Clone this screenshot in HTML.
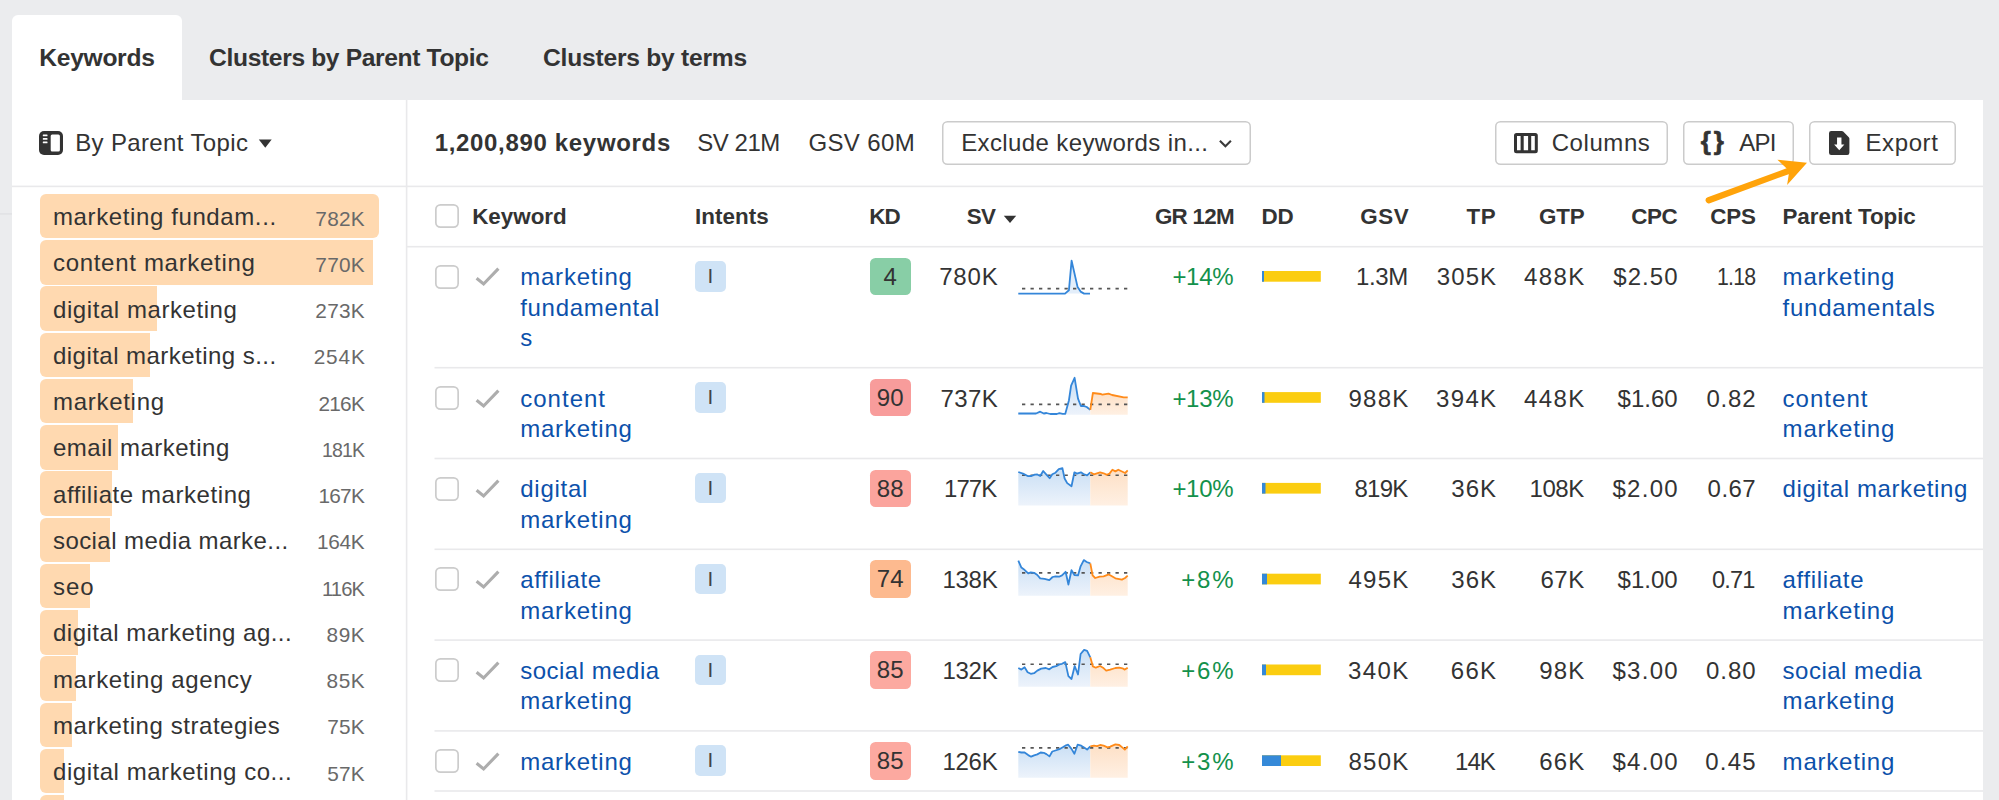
<!DOCTYPE html>
<html lang="en">
<head>
<meta charset="utf-8">
<title>Keywords Explorer</title>
<style>
*{box-sizing:border-box;margin:0;padding:0}
html,body{width:1999px;height:800px;overflow:hidden;background:#ebecee}
body{font-family:"Liberation Sans",sans-serif;color:#333;position:relative;font-size:24px}
.abs{position:absolute;white-space:nowrap}
#tab{left:12px;top:15px;width:170px;height:86px;background:#fff;border-radius:6px 6px 0 0}
#panel{left:12px;top:100px;width:1971px;height:700px;background:#fff}
.btn{box-shadow:inset 0 0 0 1.5px #cbcbcb;border-radius:5.5px;background:#fff;height:43.5px;top:121px}
/* sidebar */
.sb{left:39.5px;height:44.5px;background:#ffd9b0}
/* table */
.cb{width:24px;height:24px;box-shadow:inset 0 0 0 1.7px #cccccc;border-radius:5.5px;background:#fff;left:434.75px}
.kd{left:869.7px;width:41px;height:37.7px;border-radius:5.5px;text-align:center;line-height:38.5px;font-size:24px;color:#333}
.in{left:695px;width:30.7px;height:30.5px;border-radius:5px;background:#cfe3f6;text-align:center;line-height:30px;font-size:20.5px;color:#444}
</style>
</head>
<body>
<div class="abs" id="tab"></div>
<div class="abs" id="panel"></div>
<div class="abs" style="left:39.3px;top:42.8px;font-size:24.6px;line-height:30px;letter-spacing:-0.29px;font-weight:bold;">Keywords</div>
<div class="abs" style="left:209.1px;top:42.8px;font-size:24.6px;line-height:30px;letter-spacing:-0.35px;font-weight:bold;">Clusters by Parent Topic</div>
<div class="abs" style="left:543.1px;top:42.8px;font-size:24.6px;line-height:30px;letter-spacing:-0.23px;font-weight:bold;">Clusters by terms</div>
<svg class="abs" style="left:0;top:0" width="1999" height="800" viewBox="0 0 1999 800"><rect x="405.8" y="100" width="1.6" height="700" fill="#e9e9eb"/><rect x="12" y="185.6" width="1971" height="1.6" fill="#e9e9eb"/><rect x="0" y="213.3" width="12" height="1.3" fill="#dfe0e3"/><rect x="407" y="245.9" width="1576" height="1.6" fill="#e9e9eb"/><rect x="434.5" y="366.9" width="1548.5" height="1.6" fill="#e9e9eb"/><rect x="434.5" y="457.7" width="1548.5" height="1.6" fill="#e9e9eb"/><rect x="434.5" y="548.5" width="1548.5" height="1.6" fill="#e9e9eb"/><rect x="434.5" y="639.3" width="1548.5" height="1.6" fill="#e9e9eb"/><rect x="434.5" y="730.1" width="1548.5" height="1.6" fill="#e9e9eb"/><rect x="434.5" y="790.2" width="1548.5" height="1.6" fill="#e9e9eb"/><rect x="1262" y="271.0" width="58.8" height="10.7" fill="#fbcd10"/><rect x="1262" y="271.0" width="2" height="10.7" fill="#3589d8"/><rect x="1262" y="392.1" width="58.8" height="10.7" fill="#fbcd10"/><rect x="1262" y="392.1" width="2.5" height="10.7" fill="#3589d8"/><rect x="1262" y="482.9" width="58.8" height="10.7" fill="#fbcd10"/><rect x="1262" y="482.9" width="3.5" height="10.7" fill="#3589d8"/><rect x="1262" y="573.7" width="58.8" height="10.7" fill="#fbcd10"/><rect x="1262" y="573.7" width="5" height="10.7" fill="#3589d8"/><rect x="1262" y="664.5" width="58.8" height="10.7" fill="#fbcd10"/><rect x="1262" y="664.5" width="4" height="10.7" fill="#3589d8"/><rect x="1262" y="755.3" width="58.8" height="10.7" fill="#fbcd10"/><rect x="1262" y="755.3" width="19" height="10.7" fill="#3589d8"/></svg>
<svg class="abs" style="left:39.3px;top:130.8px" width="24" height="24" viewBox="0 0 24 24"><rect x="0" y="0" width="24" height="23.9" rx="5" fill="#333"/><rect x="11.7" y="3.4" width="9.2" height="17" rx="1.5" fill="#fff"/><rect x="3.8" y="3.6" width="4.7" height="1.7" rx=".5" fill="#fff"/><rect x="3.8" y="7" width="4.7" height="1.7" rx=".5" fill="#fff"/><rect x="3.8" y="10.5" width="4.7" height="1.7" rx=".5" fill="#fff"/></svg>
<div class="abs" style="left:75.2px;top:128.0px;font-size:24px;line-height:30px;letter-spacing:0.36px;">By Parent Topic</div>
<svg class="abs" style="left:255px;top:136px" width="20" height="14" viewBox="255 136 20 14"><path d="M258.8 139.6h12.9L265.25 147.8z" fill="#333"/></svg>
<div class="abs sb" style="top:193.8px;width:339px;border-radius:6px"></div>
<div class="abs" style="left:53.0px;top:202.2px;font-size:24px;line-height:30px;letter-spacing:0.61px;">marketing fundam...</div>
<div class="abs" style="left:315.3px;top:203.6px;font-size:20.8px;line-height:30px;letter-spacing:0.29px;color:#696969;">782K</div>
<div class="abs sb" style="top:240.0px;width:333px;border-radius:6px 0 0 6px"></div>
<div class="abs" style="left:53.0px;top:248.4px;font-size:24px;line-height:30px;letter-spacing:0.69px;">content marketing</div>
<div class="abs" style="left:315.3px;top:249.8px;font-size:20.8px;line-height:30px;letter-spacing:0.29px;color:#696969;">770K</div>
<div class="abs sb" style="top:286.2px;width:117px;border-radius:6px 0 0 6px"></div>
<div class="abs" style="left:53.0px;top:294.6px;font-size:24px;line-height:30px;letter-spacing:0.57px;">digital marketing</div>
<div class="abs" style="left:315.3px;top:296.1px;font-size:20.8px;line-height:30px;letter-spacing:0.29px;color:#696969;">273K</div>
<div class="abs sb" style="top:332.5px;width:110px;border-radius:6px 0 0 6px"></div>
<div class="abs" style="left:53.0px;top:340.9px;font-size:24px;line-height:30px;letter-spacing:0.46px;">digital marketing s...</div>
<div class="abs" style="left:313.7px;top:342.3px;font-size:20.8px;line-height:30px;letter-spacing:0.83px;color:#696969;">254K</div>
<div class="abs sb" style="top:378.8px;width:93px;border-radius:6px 0 0 6px"></div>
<div class="abs" style="left:53.0px;top:387.1px;font-size:24px;line-height:30px;letter-spacing:0.71px;">marketing</div>
<div class="abs" style="left:318.5px;top:388.6px;font-size:20.8px;line-height:30px;letter-spacing:-0.77px;color:#696969;">216K</div>
<div class="abs sb" style="top:425.0px;width:78px;border-radius:6px 0 0 6px"></div>
<div class="abs" style="left:53.0px;top:433.4px;font-size:24px;line-height:30px;letter-spacing:0.49px;">email marketing</div>
<div class="abs" style="left:321.7px;top:434.8px;font-size:20.8px;line-height:30px;letter-spacing:-0.90px;transform:scaleX(0.938);transform-origin:0 0;color:#696969;">181K</div>
<div class="abs sb" style="top:471.2px;width:72px;border-radius:6px 0 0 6px"></div>
<div class="abs" style="left:53.0px;top:479.6px;font-size:24px;line-height:30px;letter-spacing:0.57px;">affiliate marketing</div>
<div class="abs" style="left:318.5px;top:481.1px;font-size:20.8px;line-height:30px;letter-spacing:-0.77px;color:#696969;">167K</div>
<div class="abs sb" style="top:517.5px;width:70px;border-radius:6px 0 0 6px"></div>
<div class="abs" style="left:53.0px;top:525.9px;font-size:24px;line-height:30px;letter-spacing:0.42px;">social media marke...</div>
<div class="abs" style="left:316.9px;top:527.3px;font-size:20.8px;line-height:30px;letter-spacing:-0.24px;color:#696969;">164K</div>
<div class="abs sb" style="top:563.8px;width:50px;border-radius:6px 0 0 6px"></div>
<div class="abs" style="left:53.0px;top:572.1px;font-size:24px;line-height:30px;letter-spacing:0.99px;">seo</div>
<div class="abs" style="left:321.7px;top:573.5px;font-size:20.8px;line-height:30px;letter-spacing:-0.90px;transform:scaleX(0.971);transform-origin:0 0;color:#696969;">116K</div>
<div class="abs sb" style="top:610.0px;width:38px;border-radius:6px 0 0 6px"></div>
<div class="abs" style="left:53.0px;top:618.4px;font-size:24px;line-height:30px;letter-spacing:0.48px;">digital marketing ag...</div>
<div class="abs" style="left:326.5px;top:619.8px;font-size:20.8px;line-height:30px;letter-spacing:0.62px;color:#696969;">89K</div>
<div class="abs sb" style="top:656.2px;width:36px;border-radius:6px 0 0 6px"></div>
<div class="abs" style="left:53.0px;top:664.6px;font-size:24px;line-height:30px;letter-spacing:0.62px;">marketing agency</div>
<div class="abs" style="left:326.5px;top:666.0px;font-size:20.8px;line-height:30px;letter-spacing:0.62px;color:#696969;">85K</div>
<div class="abs sb" style="top:702.5px;width:32px;border-radius:6px 0 0 6px"></div>
<div class="abs" style="left:53.0px;top:710.9px;font-size:24px;line-height:30px;letter-spacing:0.56px;">marketing strategies</div>
<div class="abs" style="left:327.3px;top:712.3px;font-size:20.8px;line-height:30px;letter-spacing:0.22px;color:#696969;">75K</div>
<div class="abs sb" style="top:748.8px;width:24px;border-radius:6px 0 0 6px"></div>
<div class="abs" style="left:53.0px;top:757.1px;font-size:24px;line-height:30px;letter-spacing:0.54px;">digital marketing co...</div>
<div class="abs" style="left:327.3px;top:758.5px;font-size:20.8px;line-height:30px;letter-spacing:0.22px;color:#696969;">57K</div>
<div class="abs sb" style="top:795.0px;width:24px;border-radius:6px 0 0 6px"></div>
<div class="abs" style="left:434.7px;top:128.0px;font-size:24px;line-height:30px;letter-spacing:0.67px;font-weight:bold;">1,200,890 keywords</div>
<div class="abs" style="left:697.2px;top:128.0px;font-size:24px;line-height:30px;letter-spacing:-0.44px;">SV 21M</div>
<div class="abs" style="left:808.4px;top:128.0px;font-size:24px;line-height:30px;letter-spacing:0.37px;">GSV 60M</div>
<div class="abs btn" style="left:942px;width:309px"></div>
<div class="abs" style="left:961.2px;top:128.0px;font-size:24px;line-height:30px;letter-spacing:0.38px;">Exclude keywords in...</div>
<svg class="abs" style="left:1215px;top:135px" width="20" height="16" viewBox="1215 135 20 16"><path d="M1219.9 140.7L1225.4 146.2L1230.9 140.7" fill="none" stroke="#3a3a3a" stroke-width="2.1"/></svg>
<div class="abs btn" style="left:1495.3px;width:172.6px"></div>
<svg class="abs" style="left:1514px;top:132.7px" width="24" height="21" viewBox="0 0 24 21"><rect x="1.5" y="1.5" width="20.8" height="17.3" rx="1" fill="none" stroke="#333" stroke-width="3"/><rect x="6.6" y="2" width="3.1" height="17" fill="#333"/><rect x="14.1" y="2" width="3.1" height="17" fill="#333"/></svg>
<div class="abs" style="left:1551.7px;top:128.0px;font-size:24px;line-height:30px;letter-spacing:0.58px;">Columns</div>
<div class="abs btn" style="left:1683px;width:111px"></div>
<div class="abs" style="left:1700.7px;top:126.3px;font-size:26px;line-height:30px;letter-spacing:3.00px;font-weight:bold;-webkit-text-stroke:0.7px #333;">{}</div>
<div class="abs" style="left:1739.2px;top:128.0px;font-size:24px;line-height:30px;letter-spacing:-0.75px;">API</div>
<div class="abs btn" style="left:1808.5px;width:147.5px"></div>
<svg class="abs" style="left:1828.75px;top:130.9px" width="21" height="24" viewBox="0 0 21 24"><path d="M2.2 0h10.6a2 2 0 0 1 1.4.6l5.6 5.6a2 2 0 0 1 .6 1.4v14.1a2.2 2.2 0 0 1-2.2 2.2h-16a2.2 2.2 0 0 1-2.2-2.2v-19.5a2.2 2.2 0 0 1 2.2-2.2z" fill="#333"/><path d="M8.05 6.6h4.4v6.8h2.9l-5.1 5.8-5.1-5.8h2.9z" fill="#fff"/></svg>
<div class="abs" style="left:1865.5px;top:128.0px;font-size:24px;line-height:30px;letter-spacing:0.60px;">Export</div>
<svg class="abs" style="left:1690px;top:150px" width="140" height="60" viewBox="1690 150 140 60"><path d="M1708.75 200.25L1789 170.7" stroke="#ffa30a" stroke-width="6.3" stroke-linecap="round" fill="none"/><path d="M1777.4 159.75L1807 162.75L1787.1 184.9L1789.3 171z" fill="#ffa30a"/></svg>
<div class="abs cb" style="top:204px"></div>
<div class="abs" style="left:472.2px;top:202.2px;font-size:22.4px;line-height:30px;letter-spacing:0.00px;font-weight:bold;">Keyword</div>
<div class="abs" style="left:694.9px;top:202.2px;font-size:22.4px;line-height:30px;letter-spacing:0.08px;font-weight:bold;">Intents</div>
<div class="abs" style="left:869.2px;top:202.2px;font-size:22.4px;line-height:30px;letter-spacing:-0.78px;font-weight:bold;">KD</div>
<div class="abs" style="left:966.8px;top:202.2px;font-size:22.4px;line-height:30px;letter-spacing:-0.71px;font-weight:bold;">SV</div>
<svg class="abs" style="left:1003px;top:214.5px" width="14" height="9" viewBox="0 0 14 9"><path d="M0.8 0.8h12.4L7 8z" fill="#333"/></svg>
<div class="abs" style="left:1154.9px;top:202.2px;font-size:22.4px;line-height:30px;letter-spacing:-0.70px;font-weight:bold;">GR 12M</div>
<div class="abs" style="left:1261.6px;top:202.2px;font-size:22.4px;line-height:30px;letter-spacing:-0.18px;font-weight:bold;">DD</div>
<div class="abs" style="left:1360.2px;top:202.2px;font-size:22.4px;line-height:30px;letter-spacing:0.59px;font-weight:bold;">GSV</div>
<div class="abs" style="left:1466.6px;top:202.2px;font-size:22.4px;line-height:30px;letter-spacing:0.54px;font-weight:bold;">TP</div>
<div class="abs" style="left:1538.9px;top:202.2px;font-size:22.4px;line-height:30px;letter-spacing:-0.13px;font-weight:bold;">GTP</div>
<div class="abs" style="left:1631.2px;top:202.2px;font-size:22.4px;line-height:30px;letter-spacing:-0.36px;font-weight:bold;">CPC</div>
<div class="abs" style="left:1710.2px;top:202.2px;font-size:22.4px;line-height:30px;letter-spacing:-0.14px;font-weight:bold;">CPS</div>
<div class="abs" style="left:1782.5px;top:202.2px;font-size:22.4px;line-height:30px;letter-spacing:-0.06px;font-weight:bold;">Parent Topic</div>
<div class="abs cb" style="top:264.6px"></div>
<svg class="abs" style="left:474px;top:264.4px" width="27" height="24" viewBox="0 0 27 24"><path d="M2.6 14.2L9.6 20L24.4 4.6" fill="none" stroke="#adadad" stroke-width="3.1"/></svg>
<div class="abs" style="left:520.2px;top:262.4px;font-size:24px;line-height:30px;letter-spacing:0.79px;color:#0c51ab;">marketing</div>
<div class="abs" style="left:520.2px;top:292.9px;font-size:24px;line-height:30px;letter-spacing:0.71px;color:#0c51ab;">fundamental</div>
<div class="abs" style="left:520.2px;top:323.4px;font-size:24px;line-height:30px;letter-spacing:0.00px;color:#0c51ab;">s</div>
<div class="abs in" style="top:261.0px">I</div>
<div class="abs kd" style="top:257.6px;background:#88cea6">4</div>
<div class="abs" style="left:939.2px;top:262.4px;font-size:24px;line-height:30px;letter-spacing:0.81px;">780K</div>
<svg class="abs" style="left:1010px;top:250px" width="132" height="52" viewBox="0 0 132 52"><defs><linearGradient id="gb0" x1="0" y1="0" x2="0" y2="1"><stop offset="0" stop-color="#c9dff5"/><stop offset="1" stop-color="#edf3fb"/></linearGradient><linearGradient id="go0" x1="0" y1="0" x2="0" y2="1"><stop offset="0" stop-color="#fde0c6"/><stop offset="1" stop-color="#fff0e3"/></linearGradient></defs><polygon points="55.0,43.6 58.9,40.3 61.6,10.7 67.6,37.1 70.6,41.6 74.1,43.6" fill="#e3eefa"/><line x1="12.0" y1="38.6" x2="118.0" y2="38.6" stroke="#555" stroke-width="1.6" stroke-dasharray="3.3 5.2"/><polyline points="8.3,43.6 55.0,43.6 58.9,40.3 61.6,10.7 67.6,37.1 70.6,41.6 74.1,43.6 80.0,43.6" fill="none" stroke="#3486d9" stroke-width="1.8" stroke-linejoin="round"/></svg>
<div class="abs" style="left:1172.4px;top:262.4px;font-size:24px;line-height:30px;letter-spacing:-0.29px;color:#13914b;">+14%</div>
<div class="abs" style="left:1356.0px;top:262.4px;font-size:24px;line-height:30px;letter-spacing:-0.36px;">1.3M</div>
<div class="abs" style="left:1436.8px;top:262.4px;font-size:24px;line-height:30px;letter-spacing:1.07px;">305K</div>
<div class="abs" style="left:1524.0px;top:262.4px;font-size:24px;line-height:30px;letter-spacing:1.41px;">488K</div>
<div class="abs" style="left:1613.2px;top:262.4px;font-size:24px;line-height:30px;letter-spacing:1.10px;">$2.50</div>
<div class="abs" style="left:1716.6px;top:262.4px;font-size:24px;line-height:30px;letter-spacing:-0.90px;transform:scaleX(0.888);transform-origin:0 0;">1.18</div>
<div class="abs" style="left:1782.6px;top:262.4px;font-size:24px;line-height:30px;letter-spacing:0.79px;color:#0c51ab;">marketing</div>
<div class="abs" style="left:1782.6px;top:292.9px;font-size:24px;line-height:30px;letter-spacing:0.74px;color:#0c51ab;">fundamentals</div>
<div class="abs cb" style="top:385.8px"></div>
<svg class="abs" style="left:474px;top:385.5px" width="27" height="24" viewBox="0 0 27 24"><path d="M2.6 14.2L9.6 20L24.4 4.6" fill="none" stroke="#adadad" stroke-width="3.1"/></svg>
<div class="abs" style="left:520.2px;top:383.5px;font-size:24px;line-height:30px;letter-spacing:1.02px;color:#0c51ab;">content</div>
<div class="abs" style="left:520.2px;top:414.0px;font-size:24px;line-height:30px;letter-spacing:0.79px;color:#0c51ab;">marketing</div>
<div class="abs in" style="top:382.1px">I</div>
<div class="abs kd" style="top:378.7px;background:#f89c9b">90</div>
<div class="abs" style="left:940.4px;top:383.5px;font-size:24px;line-height:30px;letter-spacing:0.41px;">737K</div>
<svg class="abs" style="left:1010px;top:368px" width="132" height="52" viewBox="0 0 132 52"><defs><linearGradient id="gb1" x1="0" y1="0" x2="0" y2="1"><stop offset="0" stop-color="#c9dff5"/><stop offset="1" stop-color="#edf3fb"/></linearGradient><linearGradient id="go1" x1="0" y1="0" x2="0" y2="1"><stop offset="0" stop-color="#fde0c6"/><stop offset="1" stop-color="#fff0e3"/></linearGradient></defs><polygon points="8.3,45.5 26.0,45.5 30.2,43.7 33.8,45.5 36.4,45.0 40.3,46.0 46.8,46.0 49.4,45.2 52.7,45.8 55.3,45.8 58.9,32.5 61.1,17.6 64.6,9.8 68.0,30.6 70.9,38.0 73.5,37.8 76.7,39.0 80.3,41.9 80.3,46.8 8.3,46.8" fill="url(#gb1)"/><polygon points="80.3,41.9 82.9,25.0 91.0,26.0 92.3,26.7 98.5,25.6 102.1,27.0 113.8,29.3 117.7,29.4 117.7,46.8 80.3,46.8" fill="url(#go1)"/><line x1="12.0" y1="36.4" x2="118.0" y2="36.4" stroke="#555" stroke-width="1.6" stroke-dasharray="3.3 5.2"/><polyline points="8.3,45.5 26.0,45.5 30.2,43.7 33.8,45.5 36.4,45.0 40.3,46.0 46.8,46.0 49.4,45.2 52.7,45.8 55.3,45.8 58.9,32.5 61.1,17.6 64.6,9.8 68.0,30.6 70.9,38.0 73.5,37.8 76.7,39.0 80.3,41.9" fill="none" stroke="#3486d9" stroke-width="1.8" stroke-linejoin="round"/><polyline points="80.3,41.9 82.9,25.0 91.0,26.0 92.3,26.7 98.5,25.6 102.1,27.0 113.8,29.3 117.7,29.4" fill="none" stroke="#ff8b1a" stroke-width="1.8" stroke-linejoin="round"/></svg>
<div class="abs" style="left:1172.4px;top:383.5px;font-size:24px;line-height:30px;letter-spacing:-0.29px;color:#13914b;">+13%</div>
<div class="abs" style="left:1348.4px;top:383.5px;font-size:24px;line-height:30px;letter-spacing:1.27px;">988K</div>
<div class="abs" style="left:1436.0px;top:383.5px;font-size:24px;line-height:30px;letter-spacing:1.34px;">394K</div>
<div class="abs" style="left:1524.0px;top:383.5px;font-size:24px;line-height:30px;letter-spacing:1.41px;">448K</div>
<div class="abs" style="left:1617.6px;top:383.5px;font-size:24px;line-height:30px;letter-spacing:0.00px;">$1.60</div>
<div class="abs" style="left:1706.4px;top:383.5px;font-size:24px;line-height:30px;letter-spacing:0.85px;">0.82</div>
<div class="abs" style="left:1782.6px;top:383.5px;font-size:24px;line-height:30px;letter-spacing:1.02px;color:#0c51ab;">content</div>
<div class="abs" style="left:1782.6px;top:414.0px;font-size:24px;line-height:30px;letter-spacing:0.79px;color:#0c51ab;">marketing</div>
<div class="abs cb" style="top:476.5px"></div>
<svg class="abs" style="left:474px;top:476.3px" width="27" height="24" viewBox="0 0 27 24"><path d="M2.6 14.2L9.6 20L24.4 4.6" fill="none" stroke="#adadad" stroke-width="3.1"/></svg>
<div class="abs" style="left:520.2px;top:474.3px;font-size:24px;line-height:30px;letter-spacing:0.76px;color:#0c51ab;">digital</div>
<div class="abs" style="left:520.2px;top:504.8px;font-size:24px;line-height:30px;letter-spacing:0.79px;color:#0c51ab;">marketing</div>
<div class="abs in" style="top:472.9px">I</div>
<div class="abs kd" style="top:469.5px;background:#fba49d">88</div>
<div class="abs" style="left:944.4px;top:474.3px;font-size:24px;line-height:30px;letter-spacing:-0.90px;transform:scaleX(0.998);transform-origin:0 0;">177K</div>
<svg class="abs" style="left:1010px;top:459px" width="132" height="52" viewBox="0 0 132 52"><defs><linearGradient id="gb2" x1="0" y1="0" x2="0" y2="1"><stop offset="0" stop-color="#c9dff5"/><stop offset="1" stop-color="#edf3fb"/></linearGradient><linearGradient id="go2" x1="0" y1="0" x2="0" y2="1"><stop offset="0" stop-color="#fde0c6"/><stop offset="1" stop-color="#fff0e3"/></linearGradient></defs><polygon points="8.3,13.0 13.0,14.6 18.2,17.2 21.5,17.0 24.7,15.6 27.3,15.5 30.2,17.0 33.2,12.0 36.4,15.6 39.7,19.2 42.3,15.3 45.5,13.7 48.8,10.1 52.4,9.1 54.6,19.5 57.2,24.1 61.5,27.3 64.4,13.3 67.0,14.6 70.9,13.3 73.5,15.0 77.1,16.3 80.3,13.3 80.3,46.5 8.3,46.5" fill="url(#gb2)"/><polygon points="80.3,13.3 83.9,15.3 90.1,13.3 93.6,14.3 96.9,15.9 99.5,14.6 102.4,10.7 105.4,12.4 108.3,10.7 115.1,14.0 117.7,11.4 117.7,46.5 80.3,46.5" fill="url(#go2)"/><line x1="12.0" y1="16.3" x2="118.0" y2="16.3" stroke="#555" stroke-width="1.6" stroke-dasharray="3.3 5.2"/><polyline points="8.3,13.0 13.0,14.6 18.2,17.2 21.5,17.0 24.7,15.6 27.3,15.5 30.2,17.0 33.2,12.0 36.4,15.6 39.7,19.2 42.3,15.3 45.5,13.7 48.8,10.1 52.4,9.1 54.6,19.5 57.2,24.1 61.5,27.3 64.4,13.3 67.0,14.6 70.9,13.3 73.5,15.0 77.1,16.3 80.3,13.3" fill="none" stroke="#3486d9" stroke-width="1.8" stroke-linejoin="round"/><polyline points="80.3,13.3 83.9,15.3 90.1,13.3 93.6,14.3 96.9,15.9 99.5,14.6 102.4,10.7 105.4,12.4 108.3,10.7 115.1,14.0 117.7,11.4" fill="none" stroke="#ff8b1a" stroke-width="1.8" stroke-linejoin="round"/></svg>
<div class="abs" style="left:1172.4px;top:474.3px;font-size:24px;line-height:30px;letter-spacing:-0.29px;color:#13914b;">+10%</div>
<div class="abs" style="left:1354.4px;top:474.3px;font-size:24px;line-height:30px;letter-spacing:-0.73px;">819K</div>
<div class="abs" style="left:1451.2px;top:474.3px;font-size:24px;line-height:30px;letter-spacing:1.09px;">36K</div>
<div class="abs" style="left:1529.6px;top:474.3px;font-size:24px;line-height:30px;letter-spacing:-0.46px;">108K</div>
<div class="abs" style="left:1612.4px;top:474.3px;font-size:24px;line-height:30px;letter-spacing:1.30px;">$2.00</div>
<div class="abs" style="left:1707.6px;top:474.3px;font-size:24px;line-height:30px;letter-spacing:0.45px;">0.67</div>
<div class="abs" style="left:1782.6px;top:474.3px;font-size:24px;line-height:30px;letter-spacing:0.62px;color:#0c51ab;">digital marketing</div>
<div class="abs cb" style="top:567.4px"></div>
<svg class="abs" style="left:474px;top:567.1px" width="27" height="24" viewBox="0 0 27 24"><path d="M2.6 14.2L9.6 20L24.4 4.6" fill="none" stroke="#adadad" stroke-width="3.1"/></svg>
<div class="abs" style="left:520.2px;top:565.1px;font-size:24px;line-height:30px;letter-spacing:0.66px;color:#0c51ab;">affiliate</div>
<div class="abs" style="left:520.2px;top:595.6px;font-size:24px;line-height:30px;letter-spacing:0.79px;color:#0c51ab;">marketing</div>
<div class="abs in" style="top:563.7px">I</div>
<div class="abs kd" style="top:560.3px;background:#fdba8f">74</div>
<div class="abs" style="left:942.4px;top:565.1px;font-size:24px;line-height:30px;letter-spacing:-0.26px;">138K</div>
<svg class="abs" style="left:1010px;top:550px" width="132" height="52" viewBox="0 0 132 52"><defs><linearGradient id="gb3" x1="0" y1="0" x2="0" y2="1"><stop offset="0" stop-color="#c9dff5"/><stop offset="1" stop-color="#edf3fb"/></linearGradient><linearGradient id="go3" x1="0" y1="0" x2="0" y2="1"><stop offset="0" stop-color="#fde0c6"/><stop offset="1" stop-color="#fff0e3"/></linearGradient></defs><polygon points="8.3,10.7 11.4,17.6 13.7,19.2 18.2,23.4 20.8,22.4 24.1,22.8 27.3,25.0 30.2,28.3 34.5,28.9 39.3,30.2 42.6,27.0 45.5,26.3 49.1,26.7 52.0,25.4 55.6,21.8 58.4,34.5 61.5,20.2 64.4,25.0 68.0,25.4 70.6,16.3 73.8,10.1 76.7,12.0 80.3,13.3 80.3,45.8 8.3,45.8" fill="url(#gb3)"/><polygon points="80.3,13.3 82.6,25.4 85.2,28.0 89.7,26.7 93.6,26.3 98.8,24.4 101.5,26.0 105.4,28.3 111.9,29.6 115.1,28.0 117.7,25.7 117.7,45.8 80.3,45.8" fill="url(#go3)"/><line x1="12.0" y1="22.9" x2="118.0" y2="22.9" stroke="#555" stroke-width="1.6" stroke-dasharray="3.3 5.2"/><polyline points="8.3,10.7 11.4,17.6 13.7,19.2 18.2,23.4 20.8,22.4 24.1,22.8 27.3,25.0 30.2,28.3 34.5,28.9 39.3,30.2 42.6,27.0 45.5,26.3 49.1,26.7 52.0,25.4 55.6,21.8 58.4,34.5 61.5,20.2 64.4,25.0 68.0,25.4 70.6,16.3 73.8,10.1 76.7,12.0 80.3,13.3" fill="none" stroke="#3486d9" stroke-width="1.8" stroke-linejoin="round"/><polyline points="80.3,13.3 82.6,25.4 85.2,28.0 89.7,26.7 93.6,26.3 98.8,24.4 101.5,26.0 105.4,28.3 111.9,29.6 115.1,28.0 117.7,25.7" fill="none" stroke="#ff8b1a" stroke-width="1.8" stroke-linejoin="round"/></svg>
<div class="abs" style="left:1181.2px;top:565.1px;font-size:24px;line-height:30px;letter-spacing:1.84px;color:#13914b;">+8%</div>
<div class="abs" style="left:1348.4px;top:565.1px;font-size:24px;line-height:30px;letter-spacing:1.27px;">495K</div>
<div class="abs" style="left:1451.2px;top:565.1px;font-size:24px;line-height:30px;letter-spacing:1.09px;">36K</div>
<div class="abs" style="left:1540.4px;top:565.1px;font-size:24px;line-height:30px;letter-spacing:0.59px;">67K</div>
<div class="abs" style="left:1617.6px;top:565.1px;font-size:24px;line-height:30px;letter-spacing:0.00px;">$1.00</div>
<div class="abs" style="left:1712.4px;top:565.1px;font-size:24px;line-height:30px;letter-spacing:-0.90px;transform:scaleX(0.983);transform-origin:0 0;">0.71</div>
<div class="abs" style="left:1782.6px;top:565.1px;font-size:24px;line-height:30px;letter-spacing:0.66px;color:#0c51ab;">affiliate</div>
<div class="abs" style="left:1782.6px;top:595.6px;font-size:24px;line-height:30px;letter-spacing:0.79px;color:#0c51ab;">marketing</div>
<div class="abs cb" style="top:658.1px"></div>
<svg class="abs" style="left:474px;top:657.9px" width="27" height="24" viewBox="0 0 27 24"><path d="M2.6 14.2L9.6 20L24.4 4.6" fill="none" stroke="#adadad" stroke-width="3.1"/></svg>
<div class="abs" style="left:520.2px;top:655.9px;font-size:24px;line-height:30px;letter-spacing:0.50px;color:#0c51ab;">social media</div>
<div class="abs" style="left:520.2px;top:686.4px;font-size:24px;line-height:30px;letter-spacing:0.79px;color:#0c51ab;">marketing</div>
<div class="abs in" style="top:654.5px">I</div>
<div class="abs kd" style="top:651.1px;background:#fca9a0">85</div>
<div class="abs" style="left:942.4px;top:655.9px;font-size:24px;line-height:30px;letter-spacing:-0.26px;">132K</div>
<svg class="abs" style="left:1010px;top:641px" width="132" height="52" viewBox="0 0 132 52"><defs><linearGradient id="gb4" x1="0" y1="0" x2="0" y2="1"><stop offset="0" stop-color="#c9dff5"/><stop offset="1" stop-color="#edf3fb"/></linearGradient><linearGradient id="go4" x1="0" y1="0" x2="0" y2="1"><stop offset="0" stop-color="#fde0c6"/><stop offset="1" stop-color="#fff0e3"/></linearGradient></defs><polygon points="8.3,27.0 11.4,28.6 14.6,26.3 17.6,31.2 20.8,32.8 24.1,32.2 27.3,29.6 31.2,27.6 35.8,27.0 39.3,28.3 42.6,26.0 46.2,25.2 49.4,23.4 52.0,22.8 55.3,21.1 58.4,35.1 61.5,38.0 64.7,25.0 68.0,33.5 70.6,13.0 74.1,8.8 77.1,9.8 80.3,16.3 80.3,45.8 8.3,45.8" fill="url(#gb4)"/><polygon points="80.3,16.3 82.9,25.4 85.8,26.7 90.1,25.0 93.0,26.7 96.2,29.6 100.2,28.6 105.4,27.0 109.3,26.7 112.5,27.3 114.8,28.6 117.7,26.7 117.7,45.8 80.3,45.8" fill="url(#go4)"/><line x1="12.0" y1="23.3" x2="118.0" y2="23.3" stroke="#555" stroke-width="1.6" stroke-dasharray="3.3 5.2"/><polyline points="8.3,27.0 11.4,28.6 14.6,26.3 17.6,31.2 20.8,32.8 24.1,32.2 27.3,29.6 31.2,27.6 35.8,27.0 39.3,28.3 42.6,26.0 46.2,25.2 49.4,23.4 52.0,22.8 55.3,21.1 58.4,35.1 61.5,38.0 64.7,25.0 68.0,33.5 70.6,13.0 74.1,8.8 77.1,9.8 80.3,16.3" fill="none" stroke="#3486d9" stroke-width="1.8" stroke-linejoin="round"/><polyline points="80.3,16.3 82.9,25.4 85.8,26.7 90.1,25.0 93.0,26.7 96.2,29.6 100.2,28.6 105.4,27.0 109.3,26.7 112.5,27.3 114.8,28.6 117.7,26.7" fill="none" stroke="#ff8b1a" stroke-width="1.8" stroke-linejoin="round"/></svg>
<div class="abs" style="left:1181.2px;top:655.9px;font-size:24px;line-height:30px;letter-spacing:1.84px;color:#13914b;">+6%</div>
<div class="abs" style="left:1348.0px;top:655.9px;font-size:24px;line-height:30px;letter-spacing:1.41px;">340K</div>
<div class="abs" style="left:1450.8px;top:655.9px;font-size:24px;line-height:30px;letter-spacing:1.29px;">66K</div>
<div class="abs" style="left:1539.2px;top:655.9px;font-size:24px;line-height:30px;letter-spacing:1.19px;">98K</div>
<div class="abs" style="left:1612.4px;top:655.9px;font-size:24px;line-height:30px;letter-spacing:1.30px;">$3.00</div>
<div class="abs" style="left:1706.0px;top:655.9px;font-size:24px;line-height:30px;letter-spacing:0.99px;">0.80</div>
<div class="abs" style="left:1782.6px;top:655.9px;font-size:24px;line-height:30px;letter-spacing:0.50px;color:#0c51ab;">social media</div>
<div class="abs" style="left:1782.6px;top:686.4px;font-size:24px;line-height:30px;letter-spacing:0.79px;color:#0c51ab;">marketing</div>
<div class="abs cb" style="top:748.9px"></div>
<svg class="abs" style="left:474px;top:748.7px" width="27" height="24" viewBox="0 0 27 24"><path d="M2.6 14.2L9.6 20L24.4 4.6" fill="none" stroke="#adadad" stroke-width="3.1"/></svg>
<div class="abs" style="left:520.2px;top:746.7px;font-size:24px;line-height:30px;letter-spacing:0.79px;color:#0c51ab;">marketing</div>
<div class="abs in" style="top:745.3px">I</div>
<div class="abs kd" style="top:741.9px;background:#fca9a0">85</div>
<div class="abs" style="left:942.4px;top:746.7px;font-size:24px;line-height:30px;letter-spacing:-0.26px;">126K</div>
<svg class="abs" style="left:1010px;top:732px" width="132" height="52" viewBox="0 0 132 52"><defs><linearGradient id="gb5" x1="0" y1="0" x2="0" y2="1"><stop offset="0" stop-color="#c9dff5"/><stop offset="1" stop-color="#edf3fb"/></linearGradient><linearGradient id="go5" x1="0" y1="0" x2="0" y2="1"><stop offset="0" stop-color="#fde0c6"/><stop offset="1" stop-color="#fff0e3"/></linearGradient></defs><polygon points="8.3,19.8 11.4,20.5 14.6,20.5 18.2,23.1 21.1,24.7 24.1,23.4 27.3,22.4 30.6,20.5 33.8,20.8 36.4,22.1 39.5,24.4 42.3,19.5 45.5,18.5 49.4,17.2 52.7,15.3 55.3,13.7 58.2,12.7 61.5,16.9 64.4,21.8 67.6,12.7 71.2,13.7 74.1,15.6 77.1,17.6 80.3,14.3 80.3,45.8 8.3,45.8" fill="url(#gb5)"/><polygon points="80.3,14.3 83.9,13.7 87.1,14.2 90.1,13.0 93.6,13.7 97.5,15.3 100.2,14.6 105.4,12.4 109.3,13.0 112.5,15.6 114.8,17.6 117.7,14.3 117.7,45.8 80.3,45.8" fill="url(#go5)"/><line x1="12.0" y1="15.9" x2="118.0" y2="15.9" stroke="#555" stroke-width="1.6" stroke-dasharray="3.3 5.2"/><polyline points="8.3,19.8 11.4,20.5 14.6,20.5 18.2,23.1 21.1,24.7 24.1,23.4 27.3,22.4 30.6,20.5 33.8,20.8 36.4,22.1 39.5,24.4 42.3,19.5 45.5,18.5 49.4,17.2 52.7,15.3 55.3,13.7 58.2,12.7 61.5,16.9 64.4,21.8 67.6,12.7 71.2,13.7 74.1,15.6 77.1,17.6 80.3,14.3" fill="none" stroke="#3486d9" stroke-width="1.8" stroke-linejoin="round"/><polyline points="80.3,14.3 83.9,13.7 87.1,14.2 90.1,13.0 93.6,13.7 97.5,15.3 100.2,14.6 105.4,12.4 109.3,13.0 112.5,15.6 114.8,17.6 117.7,14.3" fill="none" stroke="#ff8b1a" stroke-width="1.8" stroke-linejoin="round"/></svg>
<div class="abs" style="left:1181.2px;top:746.7px;font-size:24px;line-height:30px;letter-spacing:1.84px;color:#13914b;">+3%</div>
<div class="abs" style="left:1348.4px;top:746.7px;font-size:24px;line-height:30px;letter-spacing:1.27px;">850K</div>
<div class="abs" style="left:1455.2px;top:746.7px;font-size:24px;line-height:30px;letter-spacing:-0.90px;transform:scaleX(0.999);transform-origin:0 0;">14K</div>
<div class="abs" style="left:1539.2px;top:746.7px;font-size:24px;line-height:30px;letter-spacing:1.19px;">66K</div>
<div class="abs" style="left:1612.4px;top:746.7px;font-size:24px;line-height:30px;letter-spacing:1.30px;">$4.00</div>
<div class="abs" style="left:1705.2px;top:746.7px;font-size:24px;line-height:30px;letter-spacing:1.25px;">0.45</div>
<div class="abs" style="left:1782.6px;top:746.7px;font-size:24px;line-height:30px;letter-spacing:0.79px;color:#0c51ab;">marketing</div>
</body>
</html>
